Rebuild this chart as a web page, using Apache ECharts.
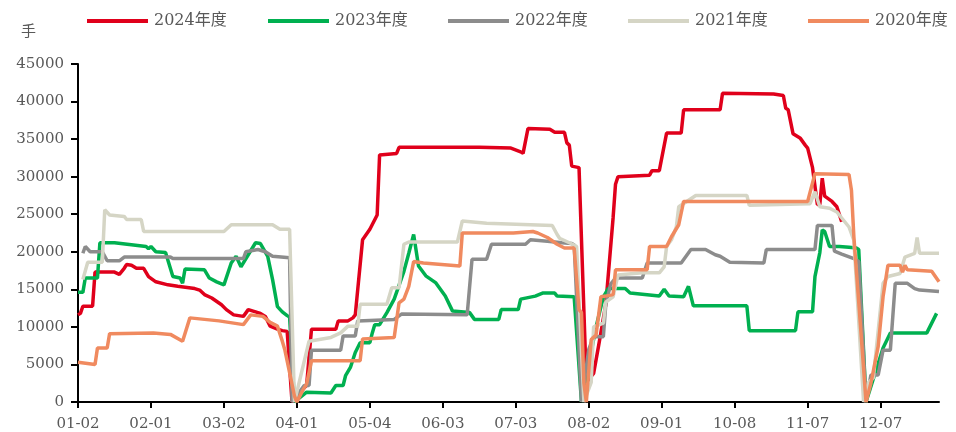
<!DOCTYPE html>
<html>
<head>
<meta charset="utf-8">
<title>持仓季节性</title>
<script src="https://cdn.jsdelivr.net/npm/echarts@6/dist/echarts.min.js"></script>
<style>
  html, body { margin: 0; padding: 0; background: #fff; }
  #chart { width: 956px; height: 432px; }
</style>
</head>
<body>
<div id="chart"></div>
<script>
// x axis: month-day of every calendar day, minus the days closed in every year
const monthLengths = [31, 29, 31, 30, 31, 30, 31, 31, 30, 31, 30, 31]
const closedDays = ["01-01", "05-01", "05-02", "05-03",
  "10-01", "10-02", "10-03", "10-04", "10-05", "10-06", "10-07"]
const categories = []
monthLengths.forEach(function (len, m) {
  for (let d = 1; d <= len; d++) {
    const md = String(m + 1).padStart(2, "0") + "-" + String(d).padStart(2, "0")
    if (closedDays.indexOf(md) < 0) categories.push(md)
  }
})

const seriesNames = ["2024年度", "2023年度", "2022年度", "2021年度", "2020年度"]
const yTicks = [0, 45000, 5000] // min, max, step

// [day index, 手]
const y2024 = [[0, 11600], [1, 11800], [2, 12750], [6, 12750], [7, 17300], [15, 17300], [17, 17000],
  [19, 17800], [20, 18300], [22, 18200], [24, 17800], [27, 17800], [29, 16700], [32, 16000], [37, 15600],
  [41, 15400], [48, 15100], [50, 14900], [52, 14300], [55, 13850], [59, 12950], [61, 12300], [64, 11600],
  [68, 11400], [70, 12300], [72, 12100], [75, 11800], [77, 11400], [79, 10100], [82, 9700], [84, 9500],
  [86, 9400], [88, 0], [91, 1300], [94, 2200], [96, 9700], [106, 9700], [107, 10800], [111, 10800],
  [113, 11200], [114, 11600], [117, 21600], [120, 23000], [123, 24900], [124, 32900], [131, 33100],
  [132, 33900], [165, 33900], [178, 33800], [182, 33300], [183, 33100], [185, 36400], [194, 36300],
  [196, 35900], [200, 35900], [201, 34500], [202, 34200], [203, 31400], [206, 31200], [209, 2600],
  [212, 3800], [214, 7400], [217, 13000], [220, 24500], [221, 29000], [222, 30000], [235, 30200],
  [236, 30800], [239, 30800], [242, 35800], [248, 35800], [249, 38900], [264, 38900], [265, 41100],
  [286, 41000], [290, 40800], [291, 39100], [292, 38900], [294, 35700], [297, 35100], [299, 34200],
  [300, 33800], [302, 31200], [304, 26300], [305, 26300], [306, 29800], [307, 27400], [310, 26700],
  [312, 26000], [314, 24000]]

const y2023 = [[0, 14600], [2, 14600], [3, 16500], [8, 16500], [9, 21200], [15, 21200], [28, 20700],
  [29, 20400], [30, 20700], [32, 20000], [36, 19900], [39, 16700], [42, 16500], [43, 15800], [44, 17700],
  [52, 17600], [54, 16500], [57, 16000], [60, 15600], [63, 18500], [65, 19400], [67, 18000], [70, 19600],
  [73, 21200], [75, 21100], [78, 19400], [80, 16300], [82, 12700], [84, 12000], [86, 11500], [87, 11300],
  [89, 0], [94, 1300], [104, 1200], [106, 2200], [109, 2200], [110, 3500], [112, 4600], [114, 6600],
  [116, 7900], [120, 7900], [121, 9200], [122, 10300], [124, 10300], [127, 11900], [130, 13700],
  [134, 17400], [136, 19800], [138, 22300], [140, 18100], [143, 16800], [147, 15900], [151, 14100],
  [154, 12100], [161, 11900], [163, 11000], [173, 11000], [174, 12300], [181, 12300], [182, 13700],
  [188, 14100], [191, 14500], [196, 14500], [197, 14100], [204, 14000], [207, 0], [213, 10000],
  [216, 14000], [218, 15100], [225, 15100], [227, 14500], [239, 14100], [241, 15000], [243, 14100],
  [249, 14000], [251, 15400], [253, 12800], [275, 12800], [276, 9500], [295, 9500], [296, 12000],
  [302, 12000], [303, 16700], [305, 19900], [306, 22900], [307, 22700], [309, 20700], [313, 20700],
  [317, 20600], [320, 20500], [321, 20300], [324, 0], [331, 7200], [334, 9200], [349, 9200],
  [351, 10500], [353, 11800]]

const y2022 = [[2, 19800], [3, 20700], [5, 20000], [10, 20000], [12, 18800], [17, 18800], [19, 19300],
  [38, 19300], [39, 19100], [68, 19100], [69, 20000], [74, 20300], [77, 20000], [80, 19400], [87, 19200],
  [88, 0], [93, 2200], [95, 2200], [96, 6900], [108, 6900], [109, 8800], [114, 8800], [115, 10800],
  [130, 11000], [133, 11700], [160, 11600], [162, 19000], [168, 19000], [170, 21000], [184, 21000],
  [186, 21600], [193, 21400], [199, 21200], [203, 21100], [204, 20900], [207, 0], [210, 7000],
  [212, 8700], [216, 8700], [217, 13000], [219, 15700], [221, 16500], [232, 16500], [234, 18500],
  [248, 18500], [252, 20300], [258, 20300], [262, 19600], [264, 19400], [268, 18600], [282, 18500],
  [283, 20300], [303, 20300], [304, 23500], [310, 23500], [311, 20100], [314, 19700], [319, 19100],
  [321, 18700], [324, 0], [326, 3600], [329, 3600], [331, 6900], [334, 6900], [336, 15800],
  [341, 15800], [344, 15100], [346, 14900], [354, 14700]]

const y2021 = [[2, 16300], [4, 18600], [10, 18600], [11, 25600], [13, 24900], [19, 24700], [20, 24300],
  [26, 24300], [27, 22700], [60, 22700], [63, 23600], [80, 23600], [83, 23000], [87, 23000], [89, 0],
  [95, 8100], [104, 8600], [108, 9200], [111, 10100], [115, 10100], [116, 13000], [127, 13000],
  [129, 15200], [132, 15200], [134, 21000], [136, 21300], [156, 21300], [158, 24100], [168, 23800],
  [195, 23500], [197, 22300], [198, 21800], [204, 20900], [205, 20700], [208, 0], [211, 2600],
  [212, 10000], [216, 10500], [217, 13300], [220, 14000], [222, 16900], [232, 17200], [239, 17200],
  [241, 18000], [242, 20700], [244, 21600], [246, 23300], [247, 26000], [254, 27500], [275, 27500],
  [276, 26200], [301, 26400], [303, 28000], [305, 26000], [309, 25800], [312, 25300], [314, 24500],
  [317, 23300], [319, 21500], [323, 0], [325, 2600], [327, 3200], [331, 15800], [333, 16700],
  [338, 17100], [340, 19300], [344, 19800], [345, 21900], [346, 19800], [354, 19800]]

const y2020 = [[0, 5300], [7, 5000], [8, 7200], [12, 7200], [13, 9100], [31, 9200], [38, 9000],
  [43, 8100], [46, 11200], [58, 10800], [68, 10300], [71, 11600], [76, 11400], [79, 10600], [82, 10100],
  [84, 8100], [85, 7000], [87, 3900], [89, 800], [90, 0], [92, 1300], [94, 2400], [96, 5500],
  [116, 5500], [117, 8400], [130, 8600], [132, 13200], [134, 13700], [136, 15400], [138, 18700],
  [142, 18500], [157, 18100], [158, 22500], [179, 22500], [187, 22700], [189, 22500], [193, 21900],
  [197, 21000], [200, 20500], [204, 20500], [206, 12300], [207, 11900], [208, 2500], [209, 0],
  [211, 8300], [213, 8900], [215, 14000], [217, 14100], [220, 14300], [221, 17600], [234, 17600],
  [235, 20700], [242, 20700], [244, 22000], [247, 23600], [249, 26700], [300, 26700], [303, 30400],
  [317, 30300], [318, 28200], [319, 22000], [321, 13300], [324, 0], [326, 2500], [329, 7400],
  [331, 14000], [333, 18200], [338, 18200], [339, 17300], [340, 18200], [341, 17600], [351, 17400],
  [354, 16000]]

const seriesData = [y2024, y2023, y2022, y2021, y2020]
const colors = ["#E0001B", "#00B050", "#8C8C8C", "#D5D5C5", "#F08A5F"]
const legendLeft = [82, 263, 443, 623, 803]

const textFont = "'DejaVu Serif', 'Noto Sans CJK SC', serif"

const chart = echarts.init(document.getElementById("chart"))

const option = {
  animation: false,
  backgroundColor: "#fff",
  color: colors,
  legend: seriesNames.map(function (name, i) {
    return {
      data: [name],
      left: legendLeft[i],
      top: 8,
      icon: "rect",
      itemWidth: 61,
      itemHeight: 4,
      itemGap: 0,
      textStyle: { fontFamily: textFont, fontSize: 16, color: "#595959", padding: [0, 0, 0, 1] },
    }
  }),
  grid: {
    left: 78,
    right: 17,
    top: 64,
    bottom: 29,
  },
  xAxis: {
    type: "category",
    data: categories,
    boundaryGap: false,
    axisLine: { lineStyle: { color: "#000", width: 2 } },
    axisTick: { interval: 29, length: 6, lineStyle: { color: "#000", width: 2 } },
    axisLabel: {
      interval: 29,
      margin: 15,
      fontFamily: textFont,
      fontSize: 15,
      color: "#595959",
    },
  },
  yAxis: {
    type: "value",
    name: "手",
    nameGap: 24,
    nameTextStyle: {
      fontFamily: textFont,
      fontSize: 15,
      color: "#595959",
      align: "right",
      padding: [0, 42, 0, 0],
    },
    min: yTicks[0],
    max: yTicks[1],
    interval: yTicks[2],
    splitLine: { show: false },
    axisLine: { show: true, lineStyle: { color: "#000", width: 2 } },
    axisTick: { show: true, length: 7, lineStyle: { color: "#000", width: 2 } },
    axisLabel: {
      margin: 14,
      fontFamily: textFont,
      fontSize: 15,
      color: "#595959",
      formatter: function (v) { return String(v) },
    },
  },
  series: seriesNames.map(function (name, i) {
    return {
      name: name,
      type: "line",
      data: seriesData[i],
      showSymbol: false,
      symbol: "none",
      lineStyle: { width: 3.5, color: colors[i] },
    }
  }),
}

chart.setOption(option)
</script>
</body>
</html>
